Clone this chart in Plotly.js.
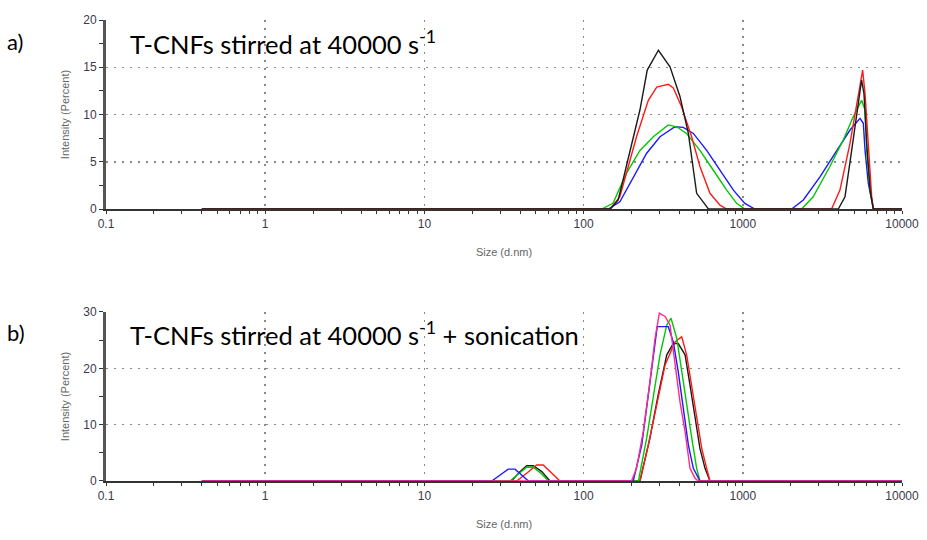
<!DOCTYPE html>
<html>
<head>
<meta charset="utf-8">
<script src="https://cdn.plot.ly/plotly-3.0.1.min.js"></script>
<style>html,body{margin:0;padding:0;background:#fff;}#chart{width:927px;height:540px;}</style>
</head>
<body>
<div id="chart"></div>
<script>
// ---------- Data (size in d.nm, intensity in %) ----------
// Panel a) T-CNFs stirred at 40000 s-1
var aBlackSize = [0.4, 147, 165, 195, 226, 251, 295, 349, 403, 455, 513, 593, 607, 3980, 4385, 4830, 5310, 5575, 5770, 6000, 6300, 6607, 10000];
var aBlackInt  = [0,   0,   0.95, 5.9, 10.5, 14.7, 16.8, 15.05, 11.9, 8.0, 1.66, 0.25, 0, 0, 1.3, 6.2, 11.2, 13.65, 12.2, 6.95, 2.0, 0, 0];

var aRedSize = [0.4, 147, 169, 215, 255, 288, 340, 366, 413, 477, 538, 622, 719, 792, 3610, 4076, 4713, 5310, 5660, 5860, 6143, 6450, 6607, 10000];
var aRedInt  = [0,   0,   1.3, 7.65, 11.5, 12.9, 13.2, 12.8, 10.8, 7.65, 4.5, 1.66, 0.4, 0, 0, 2.0, 6.95, 12.2, 14.7, 12.2, 6.95, 1.3, 0, 0];

var aGreenSize = [0.4, 130, 153, 186, 226, 274, 340, 384, 443, 538, 653, 792, 915, 1030, 2340, 2767, 3524, 4276, 4940, 5575, 5860, 6000, 6300, 6607, 10000];
var aGreenInt  = [0,   0,   0.6, 3.8, 6.2, 7.65, 8.9, 8.7, 8.0, 6.2, 4.1, 2.0, 0.6, 0, 0, 1.3, 4.5, 7.3, 9.77, 11.5, 10.5, 6.2, 2.0, 0, 0];

var aBlueSize = [0.4, 143, 169, 205, 249, 302, 375, 423, 489, 593, 719, 873, 1030, 1191, 2028, 2400, 3053, 3884, 4713, 5447, 5716, 5860, 6143, 6450, 6607, 10000];
var aBlueInt  = [0,   0,   0.77, 3.4, 5.9, 7.65, 8.7, 8.64, 8.0, 6.2, 4.1, 2.0, 0.6, 0, 0, 0.95, 3.4, 6.2, 8.36, 9.6, 9.07, 6.2, 2.7, 0.95, 0, 0];

// Panel b) T-CNFs stirred at 40000 s-1 + sonication
var bBlackSize = [0.4, 35.3, 39.8, 43.9, 48.3, 54.6, 61.5, 226, 261, 294, 333, 366, 393, 434, 466, 501, 538, 579, 622, 10000];
var bBlackInt  = [0,   0,    1.66, 2.72, 2.72, 1.66, 0,   0,   7.6, 15.3, 22.4, 24.4, 24.4, 22.4, 17.0, 11.1, 5.8, 2.25, 0, 0];

var bRedSize = [0.4, 38, 43.9, 50.7, 55.8, 63, 71, 226, 255, 288, 325, 375, 413, 444, 478, 513, 552, 593, 622, 10000];
var bRedInt  = [0,   0,  1.37, 2.84, 2.84, 1.37, 0, 0,  6.4, 13.5, 20.6, 24.7, 25.6, 22.4, 17.0, 11.1, 5.8, 2.25, 0, 0];

var bGreenSize = [0.4, 34.5, 38.9, 43.9, 48.3, 54.6, 60, 221, 249, 274, 302, 333, 354, 385, 413, 444, 478, 513, 538, 10000];
var bGreenInt  = [0,   0,    1.24, 2.43, 2.43, 1.24, 0, 0,   7.6, 15.3, 22.4, 27.7, 28.9, 25.3, 19.4, 13.5, 7.6, 2.25, 0, 0];

var bBlueSize = [0.4, 26.5, 29.9, 33.6, 37.1, 40.8, 45, 205, 232, 255, 274, 290, 340, 366, 393, 423, 455, 489, 538, 10000];
var bBlueInt  = [0,   0,    1.07, 2.1, 2.1, 1.07, 0,  0,   6.4, 15.3, 22.4, 27.4, 27.4, 24.7, 19.4, 12.9, 6.4, 2.25, 0, 0];

var bPinkSize = [0.4, 200, 215, 237, 261, 281, 299, 325, 349, 375, 403, 434, 466, 501, 525, 10000];
var bPinkInt  = [0,   0,   2.25, 8.75, 17.6, 25.3, 29.8, 29.2, 27.7, 21.2, 14.1, 8.75, 2.25, 0.5, 0, 0];

var colBlack = '#1a1a1a', colRed = '#ff1a1a', colGreen = '#00c800', colBlue = '#1a1aff', colPink = '#ff2a8a';

function tr(x, y, c, xa, ya) {
  return {x: x, y: y, type: 'scatter', mode: 'lines', line: {color: c, width: 1.4},
          xaxis: xa, yaxis: ya, hoverinfo: 'skip', showlegend: false};
}

var data = [
  tr(aBlueSize, aBlueInt, colBlue, 'x', 'y'),
  tr(aGreenSize, aGreenInt, colGreen, 'x', 'y'),
  tr(aRedSize, aRedInt, colRed, 'x', 'y'),
  tr(aBlackSize, aBlackInt, colBlack, 'x', 'y'),
  tr(bBlackSize, bBlackInt, colBlack, 'x2', 'y2'),
  tr(bRedSize, bRedInt, colRed, 'x2', 'y2'),
  tr(bGreenSize, bGreenInt, colGreen, 'x2', 'y2'),
  tr(bBlueSize, bBlueInt, colBlue, 'x2', 'y2'),
  tr(bPinkSize, bPinkInt, colPink, 'x2', 'y2')
];

var tickFont = {family: 'Liberation Sans, Arial, sans-serif', size: 12, color: '#3a3a4a'};
var titleFont = {family: 'Liberation Sans, Arial, sans-serif', size: 11, color: '#666'};
var gridDash = '2px,6px';

function xaxis(anchor) {
  return {
    type: 'log', range: [-1, 4], anchor: anchor,
    tickmode: 'linear', tick0: 0, dtick: 1, tickformat: '~r', tickfont: tickFont,
    ticks: 'outside', ticklen: 3, tickcolor: '#333',
    showline: true, linecolor: '#333', linewidth: 2,
    showgrid: true, gridcolor: '#8a8a8a', griddash: gridDash, gridwidth: 1.5,
    zeroline: false,
    minor: {dtick: 'D1', ticks: 'outside', ticklen: 3, tickcolor: '#333', showgrid: false},
    title: {text: 'Size (d.nm)', font: titleFont, standoff: 18},
    domain: [0, 1]
  };
}
function yaxis(anchor, rng, step, dom, minorStep) {
  return {
    range: rng, anchor: anchor, domain: dom,
    tickmode: 'linear', tick0: 0, dtick: step, tickfont: tickFont,
    ticks: 'outside', ticklen: 4, tickcolor: '#333',
    showline: true, linecolor: '#555', linewidth: 3,
    showgrid: true, gridcolor: '#8a8a8a', griddash: gridDash, gridwidth: 1.5,
    zeroline: false,
    minor: {tick0: 0, dtick: minorStep, ticks: 'outside', ticklen: 4, tickcolor: '#333', showgrid: false},
    title: {text: 'Intensity (Percent)', font: titleFont, standoff: 12}
  };
}

var annFont = {family: 'Lato, Open Sans, sans-serif', size: 25.5, color: '#000'};
var layout = {
  width: 927, height: 540,
  margin: {l: 106, r: 25, t: 20, b: 59},
  paper_bgcolor: '#fff', plot_bgcolor: '#fff',
  showlegend: false,
  xaxis: xaxis('y'),
  yaxis: yaxis('x', [0, 20], 5, [0.59, 1], 2.5),
  xaxis2: xaxis('y2'),
  yaxis2: yaxis('x2', [0, 30], 10, [0, 0.3666], 5),
  annotations: [
    {text: 'a)', xref: 'paper', yref: 'paper', x: -0.1265, y: 0.953, xanchor: 'left', yanchor: 'middle',
     showarrow: false, font: {family: 'Lato, Open Sans, sans-serif', size: 22, color: '#000'}},
    {text: 'T-CNFs stirred at 40000 s<sup>-1</sup>', xref: 'paper', yref: 'paper', x: 0.0276, y: 0.953,
     xanchor: 'left', yanchor: 'middle', showarrow: false, font: annFont},
    {text: 'b)', xref: 'paper', yref: 'paper', x: -0.1265, y: 0.322, xanchor: 'left', yanchor: 'middle',
     showarrow: false, font: {family: 'Lato, Open Sans, sans-serif', size: 22, color: '#000'}},
    {text: 'T-CNFs stirred at 40000 s<sup>-1</sup> + sonication', xref: 'paper', yref: 'paper', x: 0.0276, y: 0.322,
     xanchor: 'left', yanchor: 'middle', showarrow: false, font: annFont}
  ]
};

Plotly.newPlot('chart', data, layout, {displayModeBar: false, staticPlot: true});
</script>
</body>
</html>
